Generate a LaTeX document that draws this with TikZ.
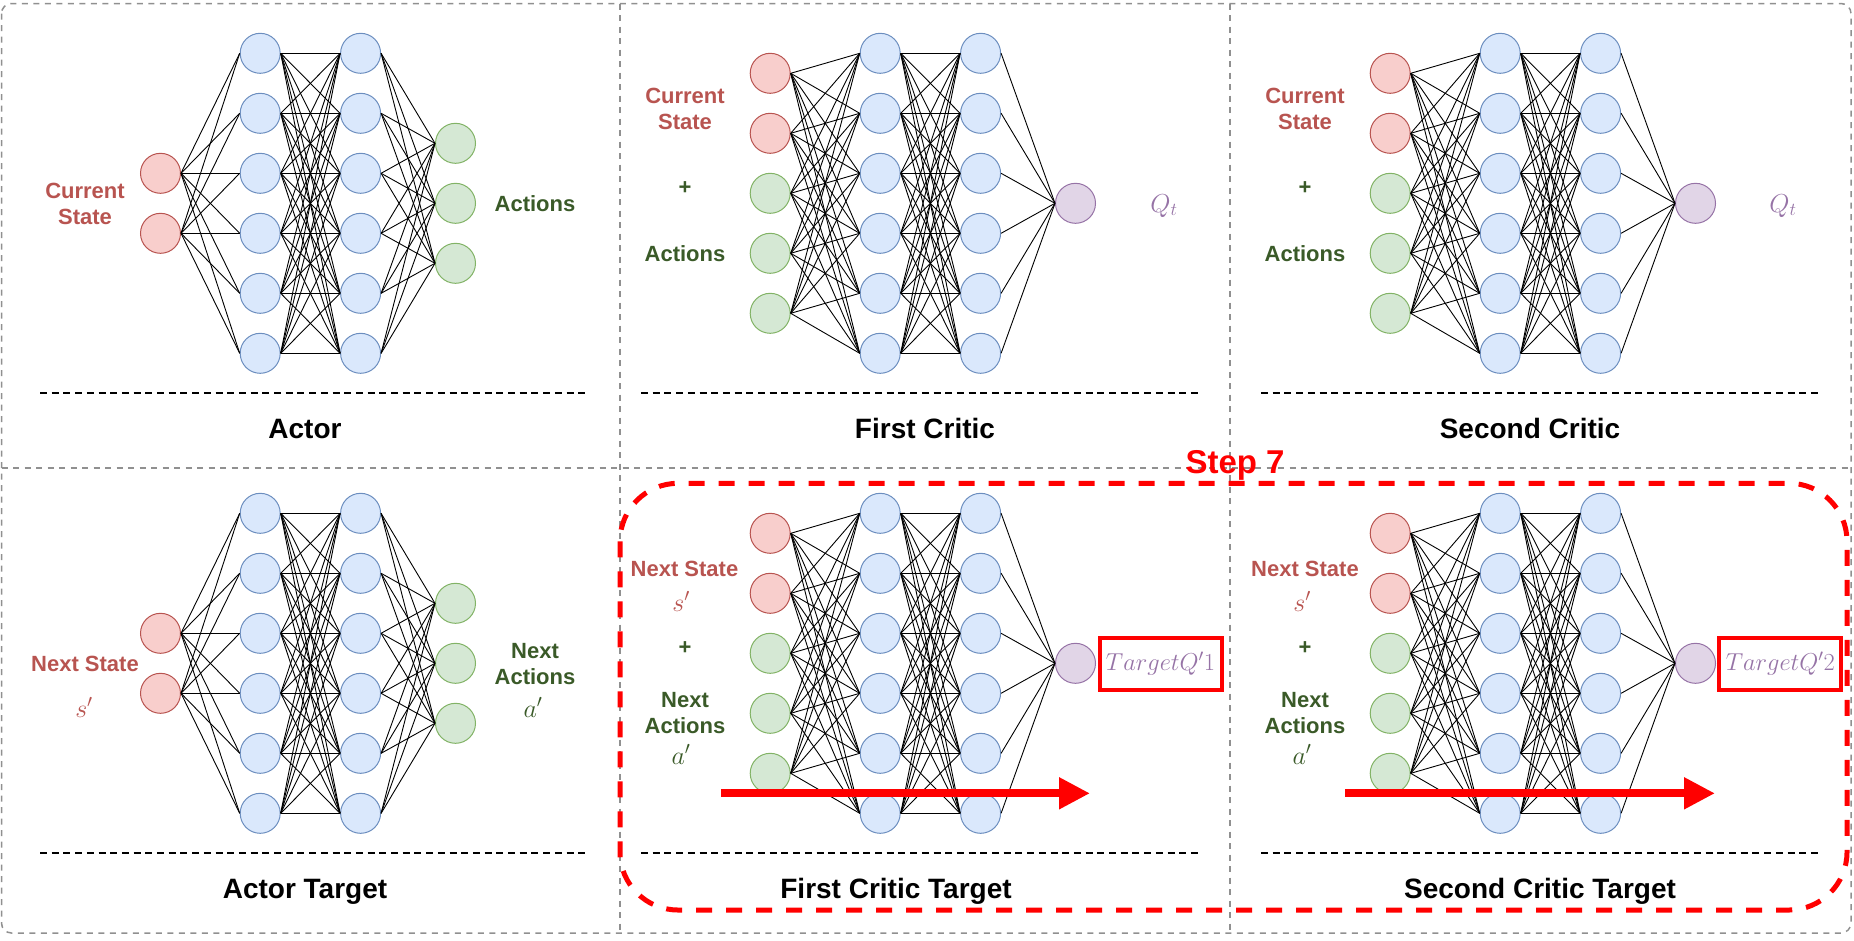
\documentclass[tikz,border=0pt]{standalone}
\usepackage{fix-cm}
\usepackage[no-math]{fontspec}
\setmainfont{Liberation Sans}
\usetikzlibrary{arrows.meta}
\definecolor{redfill}{HTML}{F8CECC}
\definecolor{reddraw}{HTML}{B85450}
\definecolor{bluefill}{HTML}{DAE8FC}
\definecolor{bluedraw}{HTML}{6C8EBF}
\definecolor{greenfill}{HTML}{D5E8D4}
\definecolor{greendraw}{HTML}{82B366}
\definecolor{purplefill}{HTML}{E1D5E7}
\definecolor{purpledraw}{HTML}{9673A6}
\definecolor{txtred}{HTML}{B85450}
\definecolor{txtgreen}{HTML}{3A5A28}
\definecolor{graydash}{HTML}{909090}
\tikzset{
  neuron/.style={circle, minimum size=40pt, inner sep=0pt, line width=1pt},
  inred/.style={neuron, fill=redfill, draw=reddraw},
  ingreen/.style={neuron, fill=greenfill, draw=greendraw},
  hid/.style={neuron, fill=bluefill, draw=bluedraw},
  outgreen/.style={neuron, fill=greenfill, draw=greendraw},
  outpurple/.style={neuron, fill=purplefill, draw=purpledraw},
  conn/.style={line width=0.9pt, draw=black},
  panelline/.style={draw=graydash, line width=1.5pt, dash pattern=on 6pt off 5.5pt},
  sepline/.style={draw=black, line width=2pt, dash pattern=on 7pt off 4.7pt},
  lbl/.style={font=\fontsize{22}{26}\selectfont\bfseries, align=center, inner sep=0pt},
  redlbl/.style={lbl, text=txtred},
  greenlbl/.style={lbl, text=txtgreen},
  mathlbl/.style={font=\fontsize{26}{30}\selectfont, inner sep=0pt, anchor=base},
  qlbl/.style={font=\fontsize{26}{30}\selectfont, inner sep=0pt, anchor=base, text=purpledraw},
  titlelbl/.style={font=\fontsize{28}{32}\selectfont\bfseries, inner sep=0pt, anchor=base},
  targetbox/.style={draw=red, line width=4pt, minimum width=122pt, minimum height=52pt, inner sep=0pt, text=purpledraw, font=\fontsize{24.5}{28}\selectfont},
  bigarrow/.style={draw=red, line width=8pt, -{Triangle[length=31pt,width=30pt]}},
  stepbox/.style={draw=red, line width=5pt, dash pattern=on 16pt off 14pt, rounded corners=58pt}
}
\newcommand{\actornet}[2]{%
  \foreach \k in {1,...,6} {
    \node[hid] (#1a\k) at (260.2, {53.3+60*(\k-1)+#2}) {};
    \node[hid] (#1b\k) at (360.6, {53.3+60*(\k-1)+#2}) {};
  }
  \foreach \k in {1,2} \node[inred] (#1i\k) at (160.5, {173.3+60*(\k-1)+#2}) {};
  \foreach \k in {1,2,3} \node[outgreen] (#1o\k) at (455.5, {143.3+60*(\k-1)+#2}) {};
  \foreach \i in {1,2} \foreach \j in {1,...,6} \draw[conn] (#1i\i.east) -- (#1a\j.west);
  \foreach \i in {1,...,6} \foreach \j in {1,...,6} \draw[conn] (#1a\i.east) -- (#1b\j.west);
  \foreach \i in {1,...,6} \foreach \j in {1,2,3} \draw[conn] (#1b\i.east) -- (#1o\j.west);
}
\newcommand{\criticnet}[3]{%
  \foreach \k in {1,...,6} {
    \node[hid] (#1a\k) at ({880.2+#2}, {53.3+60*(\k-1)+#3}) {};
    \node[hid] (#1b\k) at ({980.6+#2}, {53.3+60*(\k-1)+#3}) {};
  }
  \foreach \k in {1,2} \node[inred] (#1i\k) at ({770.2+#2}, {73.3+60*(\k-1)+#3}) {};
  \foreach \k in {3,4,5} \node[ingreen] (#1i\k) at ({770.2+#2}, {73.3+60*(\k-1)+#3}) {};
  \node[outpurple] (#1o) at ({1075.5+#2}, {203.3+#3}) {};
  \foreach \i in {1,...,5} \foreach \j in {1,...,6} \draw[conn] (#1i\i.east) -- (#1a\j.west);
  \foreach \i in {1,...,6} \foreach \j in {1,...,6} \draw[conn] (#1a\i.east) -- (#1b\j.west);
  \foreach \i in {1,...,6} \draw[conn] (#1b\i.east) -- (#1o.west);
}
\begin{document}
\begin{tikzpicture}[x=1pt,y=-1pt]
\useasboundingbox (0,0) rectangle (1854,940);
% panel frame
\draw[panelline, rounded corners=10pt] (1.5,3.5) rectangle (1851,933);
\coordinate (vA1) at (620,3.5); \coordinate (vA2) at (620,933);
\coordinate (vB1) at (1230,3.5); \coordinate (vB2) at (1230,933);
\coordinate (hA1) at (1.5,468); \coordinate (hA2) at (1851,468);
\draw[panelline] (vA1) -- (vA2);
\draw[panelline] (vB1) -- (vB2);
\draw[panelline] (hA1) -- (hA2);

% networks
\actornet{p1}{0}
\criticnet{p2}{0}{0}
\criticnet{p3}{620}{0}
\actornet{p4}{460}
\criticnet{p5}{0}{460}
\criticnet{p6}{620}{460}

% panel 1 labels
\node[redlbl] (p1l1) at (85,203.7) {Current\\State};
\node[greenlbl, anchor=base] (p1l2) at (535,211) {Actions};
% panel 2 labels
\node[redlbl] (p2l1) at (685,108.7) {Current\\State};
\node[greenlbl] (p2l2) at (685,188.3) {+};
\node[greenlbl, anchor=base] (p2l3) at (685,261) {Actions};
\node[qlbl] (p2q) at (1164,212) {$Q_t$};
% panel 3 labels
\node[redlbl] (p3l1) at (1305,108.7) {Current\\State};
\node[greenlbl] (p3l2) at (1305,188.3) {+};
\node[greenlbl, anchor=base] (p3l3) at (1305,261) {Actions};
\node[qlbl] (p3q) at (1783,212) {$Q_t$};
% panel 4 labels
\node[redlbl, anchor=base] (p4l1) at (85,671) {Next State};
\node[mathlbl, text=txtred] (p4s) at (84,717) {$s^{\prime}$};
\node[greenlbl] (p4l2) at (535,663.7) {Next\\Actions};
\node[mathlbl, text=txtgreen] (p4a) at (533,717) {$a^{\prime}$};
% panel 5 labels
\node[redlbl, anchor=base] (p5l1) at (684.5,576) {Next State};
\node[mathlbl, text=txtred] (p5s) at (681,611) {$s^{\prime}$};
\node[greenlbl] (p5l2) at (685,648.3) {+};
\node[greenlbl] (p5l3) at (685,713.3) {Next\\Actions};
\node[mathlbl, text=txtgreen] (p5a) at (681,764) {$a^{\prime}$};
% panel 6 labels
\node[redlbl, anchor=base] (p6l1) at (1305,576) {Next State};
\node[mathlbl, text=txtred] (p6s) at (1302,611) {$s^{\prime}$};
\node[greenlbl] (p6l2) at (1305,648.3) {+};
\node[greenlbl] (p6l3) at (1305,713.3) {Next\\Actions};
\node[mathlbl, text=txtgreen] (p6a) at (1302,764) {$a^{\prime}$};

% separators
\coordinate (s1a) at (40,393.3); \coordinate (s1b) at (587,393.3);
\coordinate (s2a) at (641,393.3); \coordinate (s2b) at (1199,393.3);
\coordinate (s3a) at (1261,393.3); \coordinate (s3b) at (1819,393.3);
\coordinate (s4a) at (40,853.3); \coordinate (s4b) at (587,853.3);
\coordinate (s5a) at (641,853.3); \coordinate (s5b) at (1199,853.3);
\coordinate (s6a) at (1261,853.3); \coordinate (s6b) at (1819,853.3);
\foreach \n in {1,...,6} \draw[sepline] (s\n a) -- (s\n b);

% titles
\node[titlelbl] (t1) at (305,438) {Actor};
\node[titlelbl] (t2) at (925,438) {First Critic};
\node[titlelbl] (t3) at (1530,438) {Second Critic};
\node[titlelbl] (t4) at (305,898) {Actor Target};
\node[titlelbl] (t5) at (896,898) {First Critic Target};
\node[titlelbl] (t6) at (1540,898) {Second Critic Target};

% target boxes
\node[targetbox] (p5box) at (1160.5,663.5) {$TargetQ^{\prime}1$};
\node[targetbox] (p6box) at (1780.3,663.5) {$TargetQ^{\prime}2$};

% step 7 region
\draw[stepbox] (620,483.3) rectangle (1847,910);
\node[font=\fontsize{33}{38}\selectfont\bfseries, text=red, anchor=base, inner sep=0pt] (step) at (1235,473) {Step 7};

% arrows
\coordinate (ar5a) at (721,793.3); \coordinate (ar5b) at (1090,793.3);
\coordinate (ar6a) at (1345,793.3); \coordinate (ar6b) at (1715,793.3);
\draw[bigarrow] (ar5a) -- (ar5b);
\draw[bigarrow] (ar6a) -- (ar6b);
\end{tikzpicture}
\end{document}
